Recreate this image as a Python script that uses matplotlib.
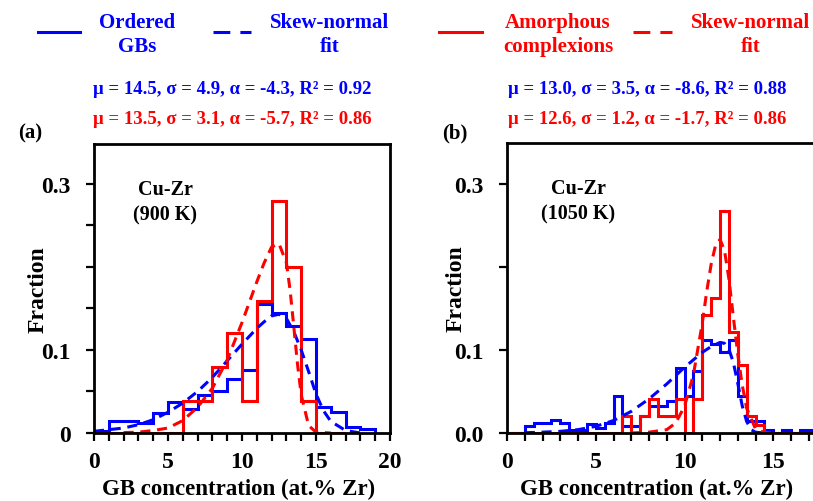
import numpy as np
import matplotlib.pyplot as plt
from matplotlib.lines import Line2D
from matplotlib.ticker import MultipleLocator

plt.rcParams['font.family'] = ['Liberation Serif', 'DejaVu Serif']
plt.rcParams['font.weight'] = 'bold'

# ---- panel (a): Cu-Zr 900 K, bin width 1 at.%
ordered_a = [0.002, 0.014, 0.014, 0.012, 0.024, 0.037, 0.029, 0.046, 0.051, 0.065,
             0.076, 0.155, 0.145, 0.129, 0.113, 0.031, 0.025, 0.007, 0.005]
amorph_a = [0, 0, 0, 0, 0, 0, 0.039, 0.039, 0.080, 0.120,
            0.039, 0.159, 0.279, 0.200, 0.039, 0, 0]

fit_ord_a_x = [0, 1, 2, 3, 4, 5, 6, 7, 8, 9, 10, 11, 11.5, 12, 12.5, 13, 13.5, 14,
               14.5, 15, 15.5, 16, 17, 18]
fit_ord_a_y = [0.002, 0.004, 0.006, 0.010, 0.016, 0.025, 0.036, 0.050, 0.067, 0.087,
               0.107, 0.126, 0.134, 0.141, 0.143, 0.138, 0.122, 0.100, 0.074, 0.047,
               0.027, 0.014, 0.003, 0]
fit_am_a_x = [2, 3, 4, 5, 6, 7, 8, 9, 10, 11, 11.5, 12, 12.5, 13, 13.25, 13.5, 13.75,
              14, 14.5, 15, 16]
fit_am_a_y = [0.0005, 0.001, 0.003, 0.006, 0.015, 0.031, 0.054, 0.088, 0.133, 0.182,
              0.205, 0.224, 0.228, 0.205, 0.172, 0.128, 0.083, 0.046, 0.009, 0.001, 0]

# ---- panel (b): Cu-Zr 1050 K, bin width 0.5 at.%
ordered_b = [0, 0, 0.008, 0.012, 0.012, 0.016, 0.012, 0.004, 0.004, 0.011,
             0.006, 0.012, 0.045, 0.008, 0.008, 0.021, 0.033, 0.033, 0.039, 0.078,
             0.045, 0.075, 0.112, 0.107, 0.098, 0.112, 0.045, 0.015, 0.015, 0.004,
             0, 0.004, 0, 0.004, 0.004, 0, 0, 0, 0, 0]
amorph_b = [0, 0, 0, 0, 0, 0, 0, 0, 0, 0,
            0, 0, 0, 0.021, 0, 0.021, 0.041, 0.020, 0.020, 0.041,
            0, 0.041, 0.142, 0.162, 0.267, 0.122, 0.082, 0.020, 0.010, 0,
            0, 0, 0, 0, 0, 0, 0, 0, 0, 0]

fit_ord_b_x = [1, 2, 3, 4, 5, 6, 7, 8, 9, 10, 10.5, 11, 11.5, 12, 12.25, 12.5, 12.75,
               13, 13.25, 13.5, 13.75, 14, 14.5]
fit_ord_b_y = [0.0003, 0.001, 0.002, 0.004, 0.008, 0.015, 0.026, 0.041, 0.059, 0.079,
               0.088, 0.097, 0.104, 0.109, 0.108, 0.101, 0.085, 0.060, 0.033, 0.014,
               0.004, 0.001, 0]
fit_am_b_x = [7, 8, 9, 9.5, 10, 10.5, 11, 11.25, 11.5, 11.75, 12, 12.25, 12.5, 12.75,
              13, 13.25, 13.5, 14, 14.5, 15]
fit_am_b_y = [0, 0.001, 0.004, 0.012, 0.032, 0.070, 0.132, 0.170, 0.203, 0.226, 0.233,
              0.220, 0.186, 0.140, 0.095, 0.058, 0.030, 0.005, 0.0005, 0]

# the 0.2 label sits under the "Fraction" title in the original, so it is blank
ylabels_a = ['0', '0.1', '', '0.3']
ylabels_b = ['0.0', '0.1', '', '0.3']

stats = {
    'a': ["μ = 14.5, σ = 4.9, α = -4.3, R² = 0.92", "μ = 13.5, σ = 3.1, α = -5.7, R² = 0.86"],
    'b': ["μ = 13.0, σ = 3.5, α = -8.6, R² = 0.88", "μ = 12.6, σ = 1.2, α = -1.7, R² = 0.86"],
}

BLUE = '#0000ff'
RED = '#ff0000'
W, H = 813, 502
lw = 2.2
dash = (3.3, 2.2)

fig = plt.figure(figsize=(W / 100, H / 100), dpi=100)


def fx(x):
    return x / W


def fy(y):
    return 1 - y / H


ax1 = fig.add_axes([fx(94), fy(434), (390 - 94) / W, (434 - 145) / H])
ax2 = fig.add_axes([fx(507), fy(434), 355 / W, (434 - 144) / H])

ax1.stairs(ordered_a, np.arange(0, len(ordered_a) + 1), color=BLUE, lw=lw)
ax1.stairs(amorph_a, np.arange(0, len(amorph_a) + 1), color=RED, lw=lw)
ax1.plot(fit_ord_a_x, fit_ord_a_y, color=BLUE, lw=lw, dashes=dash)
ax1.plot(fit_am_a_x, fit_am_a_y, color=RED, lw=lw, dashes=dash)

edges_b = np.arange(0, 20.01, 0.5)
ax2.stairs(ordered_b, edges_b, color=BLUE, lw=lw)
ax2.stairs(amorph_b, edges_b, color=RED, lw=lw)
ax2.plot(fit_ord_b_x, fit_ord_b_y, color=BLUE, lw=lw, dashes=dash)
ax2.plot(fit_am_b_x, fit_am_b_y, color=RED, lw=lw, dashes=dash)

for ax in (ax1, ax2):
    ax.set_xlim(0, 20)
    ax.set_ylim(0, 0.348)
    ax.xaxis.set_minor_locator(MultipleLocator(1))
    ax.tick_params(which='both', direction='out', width=1.6, length=6, labelsize=17)
    ax.tick_params(axis='x', which='both', pad=7)
    ax.tick_params(axis='y', which='both', pad=11)
    for s in ax.spines.values():
        s.set_linewidth(2)
    ax.set_xlabel('GB concentration (at.% Zr)', fontsize=16.5, fontweight='bold')
    ax.set_ylabel('Fraction', fontsize=17, fontweight='bold')

ax1.set_xticks([0, 5, 10, 15, 20])
ax2.set_xticks([0, 5, 10, 15])
ax1.yaxis.set_minor_locator(MultipleLocator(0.05))
ax1.set_yticks([0, 0.1, 0.2, 0.3], ylabels_a)
ax2.set_yticks([0, 0.1, 0.2, 0.3], ylabels_b)
ax2.set_ylim(0, 0.349)

ax1.xaxis.set_label_coords(0.49, -0.156)
ax2.xaxis.set_label_coords(0.42, -0.156)
ax1.yaxis.set_label_coords(-0.155, 0.5)
ax2.yaxis.set_label_coords(-0.115, 0.5)

ax1.text(0.24, 0.8, 'Cu-Zr\n(900 K)', transform=ax1.transAxes, ha='center', va='center',
         fontsize=14.5, linespacing=1.35)
ax2.text(0.2, 0.8, 'Cu-Zr\n(1050 K)', transform=ax2.transAxes, ha='center', va='center',
         fontsize=14.5, linespacing=1.35)

fig.text(fx(30), fy(133), '(a)', ha='center', va='center', fontsize=15)
fig.text(fx(455), fy(133), '(b)', ha='center', va='center', fontsize=15)

fig.text(fx(232), fy(89), stats['a'][0], color=BLUE, ha='center', va='center', fontsize=13.5)
fig.text(fx(232), fy(120), stats['a'][1], color=RED, ha='center', va='center', fontsize=13.5)
fig.text(fx(647), fy(89), stats['b'][0], color=BLUE, ha='center', va='center', fontsize=13.5)
fig.text(fx(647), fy(120), stats['b'][1], color=RED, ha='center', va='center', fontsize=13.5)

# legend along the top
fig.add_artist(Line2D([fx(38), fx(80)], [fy(33), fy(33)], color=BLUE, lw=lw))
fig.add_artist(Line2D([fx(213), fx(251)], [fy(33), fy(33)], color=BLUE, lw=lw,
                      dashes=(5.5, 3.3)))
fig.add_artist(Line2D([fx(439), fx(482)], [fy(33), fy(33)], color=RED, lw=lw))
fig.add_artist(Line2D([fx(633), fx(672)], [fy(33), fy(33)], color=RED, lw=lw,
                      dashes=(5.5, 3.3)))
for x, label, c in [(137, 'Ordered\nGBs', BLUE), (330, 'Skew-normal\nfit', BLUE),
                    (558, 'Amorphous\ncomplexions', RED), (751, 'Skew-normal\nfit', RED)]:
    fig.text(fx(x), fy(35), label, color=c, ha='center', va='center', fontsize=15,
             linespacing=1.3)

fig.savefig('out.png', dpi=100)
